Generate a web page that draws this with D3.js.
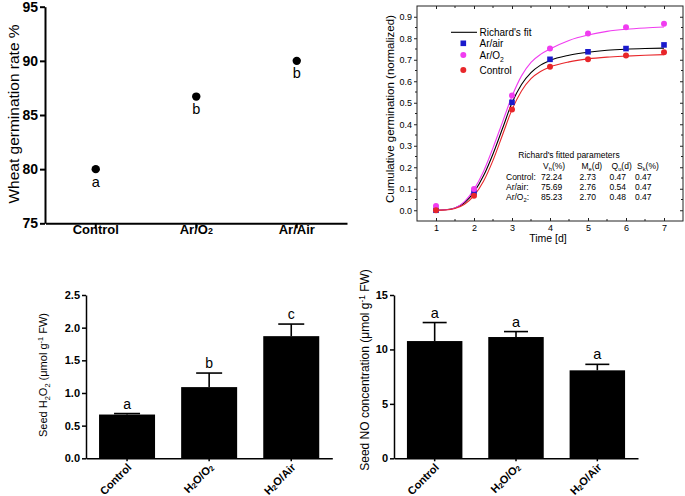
<!DOCTYPE html>
<html><head><meta charset="utf-8">
<script src="https://cdn.jsdelivr.net/npm/d3@7"></script>
<style>
body{margin:0;background:#fff}
svg{display:block}
text{font-family:Arial,"Liberation Sans",sans-serif;fill:#000}
</style>
</head><body>
<svg id="c" width="685" height="496"></svg>
<script>
// ---------- data ----------
// Panel A: wheat germination rate
const catsA = ["Control", "Ar/O2", "Ar/Air"];
const germRate = [80, 86.7, 90];
const lettersA = ["a", "b", "b"];
const ticksA = [75, 80, 85, 90, 95];

// Panel B: cumulative germination
const days = [1, 2, 3, 4, 5, 6, 7];
const ctrlObs = [0.000, 0.068, 0.469, 0.668, 0.702, 0.720, 0.735];
const airObs  = [0.000, 0.084, 0.502, 0.702, 0.737, 0.752, 0.769];
const o2Obs   = [0.020, 0.099, 0.534, 0.752, 0.822, 0.851, 0.868];
const fitT    = [1, 1.25, 1.5, 1.75, 2, 2.25, 2.5, 2.75, 3, 3.25, 3.5, 3.75, 4, 4.5, 5, 5.5, 6, 6.5, 7];
const fitAir  = [0.000, 0.002, 0.010, 0.035, 0.084, 0.160, 0.262, 0.380, 0.500, 0.585, 0.640, 0.675, 0.697, 0.721, 0.735, 0.744, 0.749, 0.752, 0.754];
const fitO2   = [0.000, 0.002, 0.011, 0.040, 0.097, 0.180, 0.290, 0.410, 0.530, 0.625, 0.688, 0.725, 0.750, 0.790, 0.815, 0.832, 0.842, 0.848, 0.852];
const fitCtrl = [0.000, 0.001, 0.008, 0.028, 0.068, 0.135, 0.232, 0.350, 0.468, 0.555, 0.612, 0.645, 0.666, 0.690, 0.704, 0.712, 0.717, 0.721, 0.724];
const ticksBy = [0, 0.1, 0.2, 0.3, 0.4, 0.5, 0.6, 0.7, 0.8, 0.9];
const minorBy = [0.05, 0.15, 0.25, 0.35, 0.45, 0.55, 0.65, 0.75, 0.85];
const minorBx = [1.5, 2.5, 3.5, 4.5, 5.5, 6.5];
const legendB = ["Richard's fit", "Ar/air", "Ar/O2", "Control"];
const paramTitle = "Richard's fitted parameters";
const paramHead = [["V", "h", "(%)"], ["M", "e", "(d)"], ["Q", "u", "(d)"], ["S", "k", "(%)"]];
const paramRows = [
  ["Control:", "72.24", "2.73", "0.47", "0.47"],
  ["Ar/air:",  "75.69", "2.76", "0.54", "0.47"],
  ["Ar/O2:",   "85.23", "2.70", "0.48", "0.47"]
];

// Panel C: seed H2O2
const catsC = ["Control", "H2O/O2", "H2O/Air"];
const h2o2Mean = [0.67, 1.09, 1.87];
const h2o2Err  = [0.015, 0.215, 0.185];
const lettersC = ["a", "b", "c"];
const ticksC = [0, 0.5, 1.0, 1.5, 2.0, 2.5];

// Panel D: seed NO
const catsD = ["Control", "H2O/O2", "H2O/Air"];
const noMean = [10.77, 11.14, 8.08];
const noErr  = [1.7, 0.5, 0.55];
const lettersD = ["a", "a", "a"];
const ticksD = [0, 5, 10, 15];

// ---------- helpers ----------
const svg = d3.select("#c");
const FONT = 'Arial,"Liberation Sans",sans-serif';

function rich(textSel, parts, fs, subShift, supShift) {
  let shift = 0;
  parts.forEach(p => {
    const target = p.s === "sub" ? subShift : p.s === "sup" ? -supShift : 0;
    const ts = textSel.append("tspan").text(p.t).attr("dy", target - shift);
    if (p.s) ts.style("font-size", (fs * 0.68) + "px");
    shift = target;
  });
}
// a digit directly after a letter becomes a subscript (chemical formulas)
function chemParts(s) {
  return s.split(/(?<=[A-Za-z])(\d)/).filter(x => x !== "").map(x => /^\d$/.test(x) ? {t: x, s: "sub"} : {t: x});
}

// ---------- Panel A ----------
const gA = svg.append("g");
const xA = d3.scaleBand().domain(catsA).range([45.5, 347]);
const yA = d3.scaleLinear().domain([75, 95]).range([223.3, 6.7]);

const axAy = gA.append("g").attr("transform", "translate(45,0)")
  .call(d3.axisLeft(yA).tickValues(ticksA).tickSize(5).tickSizeOuter(0).tickPadding(2));
const axAx = gA.append("g").attr("transform", "translate(0,223.3)")
  .call(d3.axisBottom(xA).tickSize(5).tickSizeOuter(0).tickPadding(6));
[axAy, axAx].forEach(a => {
  a.select(".domain").attr("stroke-width", 2).attr("stroke", "#000");
  a.selectAll(".tick line").attr("stroke-width", 2).attr("stroke", "#000");
});
axAy.selectAll("text").style("font-size", "14px").style("font-weight", "bold").style("font-family", FONT).attr("fill", "#000");
axAx.selectAll("text").each(function(d) {
  const t = d3.select(this).text("").style("font-size", "13px").style("font-weight", "bold").style("font-family", FONT).attr("fill", "#000");
  rich(t, chemParts(d), 13, 0, 0);
});

gA.selectAll("circle.pt").data(germRate).join("circle").attr("class", "pt")
  .attr("cx", (d, i) => xA(catsA[i]) + xA.bandwidth() / 2)
  .attr("cy", d => yA(d)).attr("r", 4.2).attr("fill", "#000");
gA.selectAll("text.let").data(germRate).join("text").attr("class", "let")
  .attr("x", (d, i) => xA(catsA[i]) + xA.bandwidth() / 2)
  .attr("y", d => yA(d) + 17.5).attr("text-anchor", "middle")
  .style("font-size", "14.5px").text((d, i) => lettersA[i]);
gA.append("text").attr("transform", "translate(19,114) rotate(-90)")
  .attr("text-anchor", "middle").style("font-size", "15.5px").text("Wheat germination rate %");

// ---------- Panel B ----------
const gB = svg.append("g");
const xB = d3.scaleLinear().domain([0.5, 7.5]).range([417, 683]);
const yB = d3.scaleLinear().domain([-0.05, 0.95]).range([221, 6]);

const axBl = gB.append("g").attr("transform", "translate(417,0)")
  .call(d3.axisLeft(yB).tickValues(ticksBy).tickSize(3).tickSizeOuter(0).tickPadding(2).tickFormat(d3.format(".1f")));
const axBb = gB.append("g").attr("transform", "translate(0,221)")
  .call(d3.axisBottom(xB).tickValues(days).tickSize(-3).tickSizeOuter(0).tickPadding(4).tickFormat(d3.format("d")));
const axBr = gB.append("g").attr("transform", "translate(683,0)")
  .call(d3.axisRight(yB).tickValues(ticksBy).tickSize(-3).tickSizeOuter(0).tickFormat(""));
const axBt = gB.append("g").attr("transform", "translate(0,6)")
  .call(d3.axisTop(xB).tickValues(days).tickSize(-3).tickSizeOuter(0).tickFormat(""));
[axBl, axBb, axBr, axBt].forEach(a => {
  a.select(".domain").remove();
  a.selectAll(".tick line").attr("stroke", "#222").attr("stroke-width", 1);
  a.selectAll("text").style("font-size", "9px").style("font-family", FONT).attr("fill", "#222");
});
// minor ticks
gB.append("g").selectAll("line").data(minorBy).join("line")
  .attr("x1", 417).attr("x2", 415).attr("y1", d => yB(d)).attr("y2", d => yB(d)).attr("stroke", "#222");
gB.append("g").selectAll("line").data(minorBy).join("line")
  .attr("x1", 683).attr("x2", 681).attr("y1", d => yB(d)).attr("y2", d => yB(d)).attr("stroke", "#222");
gB.append("g").selectAll("line").data(minorBx).join("line")
  .attr("x1", d => xB(d)).attr("x2", d => xB(d)).attr("y1", 221).attr("y2", 219).attr("stroke", "#222");
gB.append("g").selectAll("line").data(minorBx).join("line")
  .attr("x1", d => xB(d)).attr("x2", d => xB(d)).attr("y1", 6).attr("y2", 8).attr("stroke", "#222");
gB.append("rect").attr("x", 417).attr("y", 6).attr("width", 266).attr("height", 215)
  .attr("fill", "none").attr("stroke", "#222").attr("stroke-width", 1);

const lineB = vals => d3.line().x((d, i) => xB(fitT[i])).y(d => yB(d)).curve(d3.curveMonotoneX)(vals);
const colAir = "#1a1acc", colO2 = "#f03cf0", colCtrl = "#e8262a";
gB.append("path").attr("d", lineB(fitAir)).attr("fill", "none").attr("stroke", "#000").attr("stroke-width", 1.1);
gB.append("path").attr("d", lineB(fitO2)).attr("fill", "none").attr("stroke", colO2).attr("stroke-width", 1.1);
gB.append("path").attr("d", lineB(fitCtrl)).attr("fill", "none").attr("stroke", colCtrl).attr("stroke-width", 1.1);

gB.append("g").selectAll("rect").data(airObs).join("rect")
  .attr("x", (d, i) => xB(days[i]) - 2.8).attr("y", d => yB(d) - 2.8)
  .attr("width", 5.6).attr("height", 5.6).attr("fill", colAir);
gB.append("g").selectAll("circle").data(o2Obs).join("circle")
  .attr("cx", (d, i) => xB(days[i])).attr("cy", d => yB(d)).attr("r", 3).attr("fill", colO2);
gB.append("g").selectAll("circle").data(ctrlObs).join("circle")
  .attr("cx", (d, i) => xB(days[i])).attr("cy", d => yB(d)).attr("r", 3).attr("fill", colCtrl);

// legend
const legY = [32.3, 43.3, 55, 70];
gB.append("line").attr("x1", 451).attr("x2", 477).attr("y1", legY[0]).attr("y2", legY[0]).attr("stroke", "#000").attr("stroke-width", 1.1);
gB.append("rect").attr("x", 463.3 - 2.8).attr("y", legY[1] - 2.8).attr("width", 5.6).attr("height", 5.6).attr("fill", colAir);
gB.append("circle").attr("cx", 463.3).attr("cy", legY[2]).attr("r", 3).attr("fill", colO2);
gB.append("circle").attr("cx", 463.3).attr("cy", legY[3]).attr("r", 3).attr("fill", colCtrl);
legendB.forEach((s, i) => {
  const t = gB.append("text").attr("x", 479.5).attr("y", legY[i] + 3.5).style("font-size", "10px").attr("fill", "#222");
  rich(t, chemParts(s), 10, 3, 0);
});

// parameter table
gB.append("text").attr("x", 569).attr("y", 158).attr("text-anchor", "middle")
  .style("font-size", "8.5px").attr("fill", "#222").text(paramTitle);
const colX = [506, 541, 579.5, 609.5, 635];
paramHead.forEach((h, j) => {
  const t = gB.append("text").attr("x", colX[j + 1] + 2).attr("y", 168.5).style("font-size", "8.5px").attr("fill", "#222");
  rich(t, [{t: h[0]}, {t: h[1], s: "sub"}, {t: h[2]}], 8.5, 2, 0);
});
paramRows.forEach((r, i) => {
  r.forEach((c, j) => {
    const t = gB.append("text").attr("x", colX[j]).attr("y", 179.5 + i * 10.3).style("font-size", "8.5px").attr("fill", "#222");
    rich(t, chemParts(c), 8.5, 2, 0);
  });
});

gB.append("text").attr("x", 548).attr("y", 242).attr("text-anchor", "middle")
  .style("font-size", "10.5px").attr("fill", "#222").text("Time [d]");
gB.append("text").attr("transform", "translate(394,109) rotate(-90)").attr("text-anchor", "middle")
  .style("font-size", "11.5px").attr("fill", "#222").text("Cumulative germination (normalized)");

// ---------- bar panels ----------
function barPanel(cats, means, errs, letters, ticks, fmt, x0, x1, yMax, capW, letterFs, yTitleParts, yTitleX, yTitleY, yTitleFs) {
  const g = svg.append("g");
  const x = d3.scaleBand().domain(cats).range([x0, x1]).paddingInner(0.318).paddingOuter(0.159);
  const y = d3.scaleLinear().domain([0, yMax]).range([458.3, 295]);
  const cx = c => x(c) + x.bandwidth() / 2;

  g.selectAll("rect.bar").data(means).join("rect").attr("class", "bar")
    .attr("x", (d, i) => x(cats[i])).attr("width", x.bandwidth())
    .attr("y", d => y(d)).attr("height", d => y(0) - y(d)).attr("fill", "#000");
  // error bars
  g.selectAll("line.ev").data(means).join("line").attr("class", "ev")
    .attr("x1", (d, i) => cx(cats[i])).attr("x2", (d, i) => cx(cats[i]))
    .attr("y1", d => y(d)).attr("y2", (d, i) => y(d + errs[i])).attr("stroke", "#000").attr("stroke-width", 1.6);
  g.selectAll("line.ec").data(means).join("line").attr("class", "ec")
    .attr("x1", (d, i) => cx(cats[i]) - capW / 2).attr("x2", (d, i) => cx(cats[i]) + capW / 2)
    .attr("y1", (d, i) => y(d + errs[i])).attr("y2", (d, i) => y(d + errs[i])).attr("stroke", "#000").attr("stroke-width", 1.6);
  g.selectAll("text.let").data(means).join("text").attr("class", "let")
    .attr("x", (d, i) => cx(cats[i])).attr("y", (d, i) => y(d + errs[i]) - 5)
    .attr("text-anchor", "middle").style("font-size", letterFs + "px").text((d, i) => letters[i]);

  const ay = g.append("g").attr("transform", `translate(${x0},0)`)
    .call(d3.axisLeft(y).tickValues(ticks).tickSize(4).tickSizeOuter(0).tickPadding(2).tickFormat(d3.format(fmt)));
  const ax = g.append("g").attr("transform", "translate(0,458.3)")
    .call(d3.axisBottom(x).tickSize(3).tickSizeOuter(0).tickFormat(""));
  [ay, ax].forEach(a => {
    a.select(".domain").attr("stroke", "#000").attr("stroke-width", 1.5);
    a.selectAll(".tick line").attr("stroke", "#000").attr("stroke-width", 1.5);
  });
  ay.selectAll("text").style("font-size", "11px").style("font-weight", "bold").style("font-family", FONT).attr("fill", "#000");

  cats.forEach(c => {
    const t = g.append("text").attr("transform", `translate(${cx(c) + 5},468) rotate(-45)`)
      .attr("text-anchor", "end").style("font-size", "11px").style("font-weight", "bold");
    rich(t, chemParts(c), 11, 1, 0);
  });

  const tt = g.append("text").attr("transform", `translate(${yTitleX},${yTitleY}) rotate(-90)`)
    .attr("text-anchor", "middle").style("font-size", yTitleFs + "px");
  rich(tt, yTitleParts, yTitleFs, 2.5, 4);
}

barPanel(catsC, h2o2Mean, h2o2Err, lettersC, ticksC, ".1f", 86, 332.3, 2.5, 26, 14,
  [{t: "Seed H"}, {t: "2", s: "sub"}, {t: "O"}, {t: "2", s: "sub"}, {t: " (μmol g"}, {t: "-1", s: "sup"}, {t: " FW)"}],
  47, 375, 11);
barPanel(catsD, noMean, noErr, lettersD, ticksD, "d", 394, 638, 15, 24, 14.5,
  [{t: "Seed NO concentration (μmol g"}, {t: "-1", s: "sup"}, {t: " FW)"}],
  369, 370, 12);
</script>
</body></html>
